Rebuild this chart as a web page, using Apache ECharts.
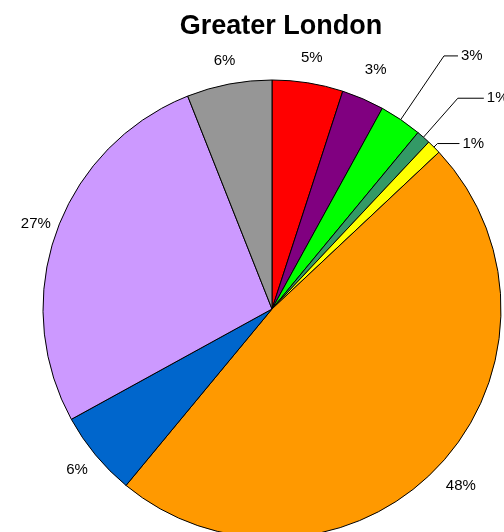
<!DOCTYPE html>
<html>
<head>
<meta charset="utf-8">
<script src="https://cdn.jsdelivr.net/npm/echarts@6/dist/echarts.min.js"></script>
<style>
  html, body { margin: 0; padding: 0; background: #ffffff; }
  #chart { width: 504px; height: 532px; }
</style>
</head>
<body>
<div id="chart"></div>
<script>
// Share of each segment, clockwise from twelve o'clock
const categories = ['Segment 1', 'Segment 2', 'Segment 3', 'Segment 4', 'Segment 5',
                    'Segment 6', 'Segment 7', 'Segment 8', 'Segment 9'];
const values = [5, 3, 3, 1, 1, 48, 6, 27, 6];
const colors = ['#FF0000', '#800080', '#00FF00', '#339966', '#FFFF00',
                '#FF9900', '#0066CC', '#CC99FF', '#969696'];

// Leader-line settings: small slices get a visible line, the others a hidden
// radial offset with the text centred on its end.
const lineShown = [false, false, true, true, true, false, false, false, false];
const lineLength = [25, 32, 77, 52, 5, 30, 24, 22, 24];
const lineLength2 = [-3, -3, 14, 26, 22, -3, -3, -3, -3];

const chart = echarts.init(document.getElementById('chart'), null, { renderer: 'canvas' });

const data = values.map((v, i) => ({
  name: categories[i],
  value: v,
  itemStyle: { color: colors[i] },
  labelLine: { show: lineShown[i], length: lineLength[i], length2: lineLength2[i] }
}));

chart.setOption({
  animation: false,
  backgroundColor: '#ffffff',
  title: {
    text: 'Greater London',
    left: 276,
    top: 8,
    textAlign: 'center',
    textStyle: {
      fontFamily: 'Liberation Sans, Arial, sans-serif',
      fontWeight: 'bold',
      fontSize: 27,
      color: '#000000'
    }
  },
  series: [{
    type: 'pie',
    center: [272, 309],
    radius: 229,
    startAngle: 90,
    clockwise: true,
    avoidLabelOverlap: false,
    data: data,
    itemStyle: { borderColor: '#000000', borderWidth: 1 },
    label: {
      show: true,
      position: 'outside',
      formatter: '{c}%',
      fontFamily: 'Liberation Sans, Arial, sans-serif',
      fontSize: 15,
      color: '#000000',
      distanceToLabelLine: 3,
      overflow: 'none'
    },
    labelLine: {
      lineStyle: { color: '#000000', width: 1 }
    },
    labelLayout: function (params) {
      return lineShown[params.dataIndex] ? {} : { align: 'center' };
    },
    emphasis: { disabled: true }
  }]
});
</script>
</body>
</html>
